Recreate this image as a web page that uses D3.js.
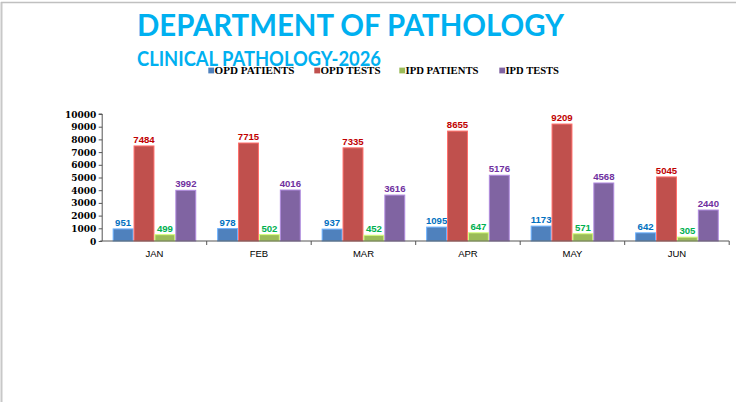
<!DOCTYPE html>
<html><head><meta charset="utf-8">
<script src="https://cdn.jsdelivr.net/npm/d3@7"></script>
<style>html,body{margin:0;padding:0;background:#fff;}svg{display:block;}</style>
</head><body>
<svg id="c" width="736" height="402"></svg>
<script>
const months = ["JAN","FEB","MAR","APR","MAY","JUN"];
const seriesNames = ["OPD PATIENTS","OPD TESTS","IPD PATIENTS","IPD TESTS"];
const opdPatients = [951, 978, 937, 1095, 1173, 642];
const opdTests = [7484, 7715, 7335, 8655, 9209, 5045];
const ipdPatients = [499, 502, 452, 647, 571, 305];
const ipdTests = [3992, 4016, 3616, 5176, 4568, 2440];
const yTicks = [0,1000,2000,3000,4000,5000,6000,7000,8000,9000,10000];
const barColors = ["#4F81BD","#C0504D","#9BBB59","#8064A2"];
const labelColors = ["#0070C0","#C00000","#00B050","#7030A0"];
const title = "DEPARTMENT OF PATHOLOGY";
const subtitle = "CLINICAL PATHOLOGY-2026";

const seriesVals = [opdPatients, opdTests, ipdPatients, ipdTests];
const svg = d3.select("#c");

// frame
svg.append("line").attr("x1",1.5).attr("x2",1.5).attr("y1",2).attr("y2",402).attr("stroke","#c8c8c8").attr("stroke-width",2);
svg.append("line").attr("x1",1).attr("x2",736).attr("y1",2.6).attr("y2",2.6).attr("stroke","#c0c0c0").attr("stroke-width",1.5);

function fit(sel, w){ sel.attr("textLength", w).attr("lengthAdjust","spacingAndGlyphs"); }

svg.append("text").attr("x",137).attr("y",36).text(title)
  .attr("font-family","Lato, 'Open Sans', sans-serif").attr("font-weight","bold").attr("font-size",31)
  .attr("fill","#00B0F0").call(fit,427);
svg.append("text").attr("x",137).attr("y",65.7).text(subtitle)
  .attr("font-family","Lato, 'Open Sans', sans-serif").attr("font-weight","bold").attr("font-size",21)
  .attr("fill","#00B0F0").call(fit,244);

// legend
const legX = [208.3, 314.3, 399.3, 499.3];
const legW = [80, 60, 73, 53.5];
seriesNames.forEach((n,i)=>{
  svg.append("rect").attr("x",legX[i]).attr("y",67.6).attr("width",5.8).attr("height",5.8).attr("fill",barColors[i]);
  svg.append("text").attr("x",legX[i]+6.2).attr("y",74.3).text(n)
    .attr("font-family","'Liberation Serif','Times New Roman',serif").attr("font-weight","bold").attr("font-size",10.5)
    .attr("fill","#000").call(fit,legW[i]);
});

const x0 = 102.2, x1 = 729.2, yB = 241, yT = 114;
const xOuter = d3.scaleBand().domain(months).range([x0,x1]).padding(0);
const xGroup = d3.scaleBand().domain(months).range([x0,x1]).paddingInner(0.2).paddingOuter(0.1);
const xSub = d3.scaleBand().domain(d3.range(4)).range([0,xGroup.bandwidth()]).padding(0);
const y = d3.scaleLinear().domain([0,10000]).range([yB,yT]);

// bars
const g = svg.append("g");
months.forEach((m,mi)=>{
  seriesVals.forEach((vals,si)=>{
    const v = vals[mi];
    const bx = xGroup(m)+xSub(si);
    g.append("rect").attr("x",bx+0.5).attr("y",y(v)).attr("width",xSub.bandwidth()-1).attr("height",yB-y(v))
      .attr("fill",barColors[si]).attr("stroke",d3.color(barColors[si]).brighter(0.9)).attr("stroke-width",1);
    g.append("text").attr("x",bx+xSub.bandwidth()/2).attr("y",y(v)-3).attr("text-anchor","middle").text(v)
      .attr("font-family","'Liberation Sans',Arial,sans-serif").attr("font-weight","bold").attr("font-size",9.6)
      .attr("fill",labelColors[si]);
  });
});

// y axis
const yAxis = d3.axisLeft(y).tickValues(yTicks).tickFormat(d3.format("d")).tickSize(3.5).tickPadding(2.5);
const ya = svg.append("g").attr("transform",`translate(${x0},0)`).call(yAxis);
ya.select(".domain").attr("stroke","#555").attr("d",`M-3.5,${yT}H0V${yB}`);
ya.selectAll(".tick line").attr("stroke","#555");
ya.selectAll("text").attr("font-family","'DejaVu Serif',serif").attr("font-weight","bold").attr("font-size",9).attr("fill","#000").attr("dy","0.34em");

// x axis
const xAxis = d3.axisBottom(xOuter).tickSize(0).tickPadding(9);
const xa = svg.append("g").attr("transform",`translate(0,${yB})`).call(xAxis);
xa.select(".domain").attr("stroke","#555").attr("d",`M${x0-2},0H${x1}`);
xa.selectAll("text").attr("font-family","'Liberation Sans',Arial,sans-serif").attr("font-size",9.5).attr("fill","#000");
months.forEach((m,i)=>{
  if(i>0) xa.append("line").attr("x1",xOuter(m)).attr("x2",xOuter(m)).attr("y1",0).attr("y2",4).attr("stroke","#555");
});
xa.append("line").attr("x1",x1).attr("x2",x1).attr("y1",0).attr("y2",4).attr("stroke","#555");
</script>
</body></html>
